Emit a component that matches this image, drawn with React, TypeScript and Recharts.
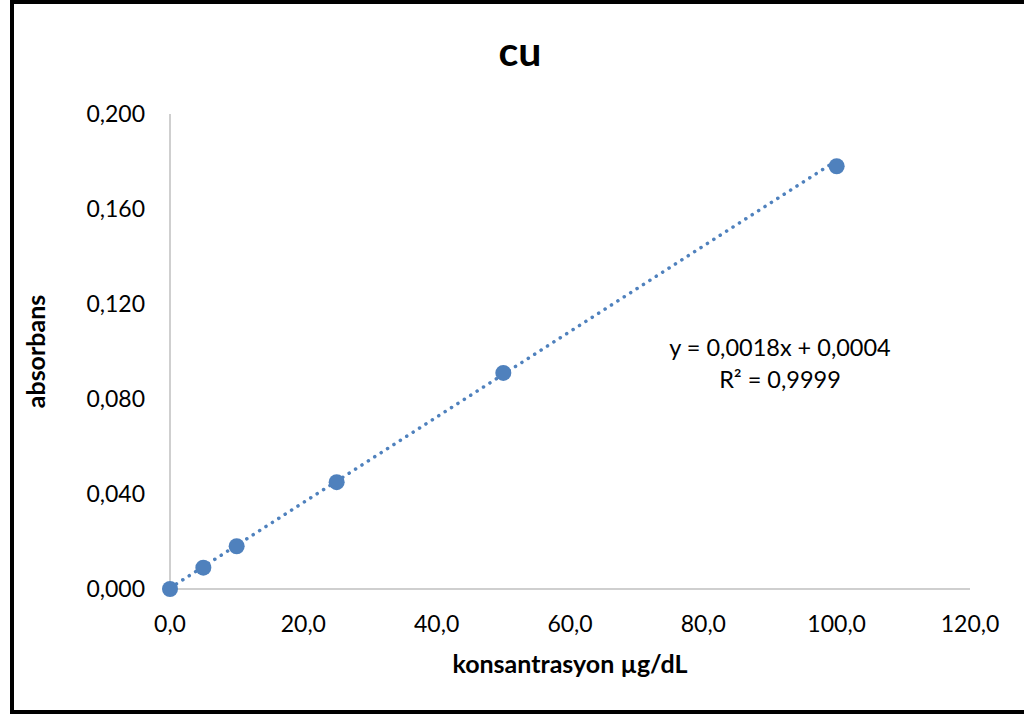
import { ScatterChart, Scatter, XAxis, YAxis, Label } from "recharts";

// calibration points: concentration (µg/dL) vs absorbance
const konsantrasyon = [0, 5, 10, 25, 50, 100];
const absorbans = [0, 0.009, 0.018, 0.045, 0.091, 0.178];

const xTicks = [0, 20, 40, 60, 80, 100, 120];
const yTicks = [0, 0.04, 0.08, 0.12, 0.16, 0.2];

// linear trendline shown on the chart
const slope = 0.0018;
const intercept = 0.0004;
const trendX = [0, 100];

const points = konsantrasyon.map((x, i) => ({ x, y: absorbans[i] }));
const trend = trendX.map((x) => ({ x, y: slope * x + intercept }));

const BLUE = "#4f81bd";
const FONT = "Lato, 'Open Sans', sans-serif";

const fmtX = (v: number) => v.toFixed(1).replace(".", ",");
const fmtY = (v: number) => v.toFixed(3).replace(".", ",");

function Marker(props: any) {
  const { cx, cy } = props;
  if (cx == null || cy == null) return null;
  return <circle cx={cx} cy={cy} r={8} fill={BLUE} />;
}

export default function App() {
  return (
    <div style={{ position: "absolute", left: 0, top: 0, width: 1024, height: 716, background: "#fff", overflow: "hidden" }}>
      <ScatterChart width={1024} height={716} margin={{ top: 114, right: 54, bottom: 0, left: 0 }}>
        <XAxis
          type="number"
          dataKey="x"
          domain={[0, 120]}
          ticks={xTicks}
          tickFormatter={fmtX}
          tickLine={false}
          tickSize={0}
          tickMargin={27}
          height={127}
          stroke="#bfbfbf"
          strokeWidth={1.5}
          tick={{ fill: "#000", fontSize: 23, fontFamily: FONT }}
        >
          <Label
            content={({ viewBox }: any) => (
              <text
                x={viewBox.x + viewBox.width / 2}
                y={673}
                textAnchor="middle"
                fontFamily={FONT}
                fontWeight="bold"
                fontSize={25}
                fill="#000"
              >
                konsantrasyon µg/dL
              </text>
            )}
          />
        </XAxis>
        <YAxis
          type="number"
          dataKey="y"
          domain={[0, 0.2]}
          ticks={yTicks}
          tickFormatter={fmtY}
          tickLine={false}
          tickSize={0}
          tickMargin={25}
          width={170}
          stroke="#bfbfbf"
          strokeWidth={1.5}
          tick={{ fill: "#000", fontSize: 23, fontFamily: FONT }}
        >
          <Label
            content={({ viewBox }: any) => {
              const cx = 45;
              const cy = viewBox.y + viewBox.height / 2;
              return (
                <text
                  x={cx}
                  y={cy}
                  transform={`rotate(-90 ${cx} ${cy})`}
                  textAnchor="middle"
                  fontFamily={FONT}
                  fontWeight="bold"
                  fontSize={25}
                  fill="#000"
                >
                  absorbans
                </text>
              );
            }}
          />
        </YAxis>
        <Scatter
          data={trend}
          line={{ stroke: BLUE, strokeWidth: 3.5, strokeDasharray: "0.1 7.5", strokeLinecap: "round" }}
          shape={() => null}
          isAnimationActive={false}
        />
        <Scatter data={points} shape={Marker} isAnimationActive={false} />
      </ScatterChart>
      <svg width={1024} height={716} style={{ position: "absolute", left: 0, top: 0, pointerEvents: "none" }}>
        <text x={520} y={66} textAnchor="middle" fontFamily={FONT} fontWeight="bold" fontSize={41} fill="#000">
          cu
        </text>
        <text x={780} y={356} textAnchor="middle" fontFamily={FONT} fontSize={23.5} fill="#000">
          y = 0,0018x + 0,0004
        </text>
        <text x={780} y={388} textAnchor="middle" fontFamily={FONT} fontSize={23.5} fill="#000">
          R² = 0,9999
        </text>
      </svg>
      <div
        style={{
          position: "absolute",
          left: 10,
          top: 0,
          width: 1040,
          height: 714,
          border: "4px solid #000",
          boxSizing: "border-box",
          pointerEvents: "none",
        }}
      />
    </div>
  );
}
